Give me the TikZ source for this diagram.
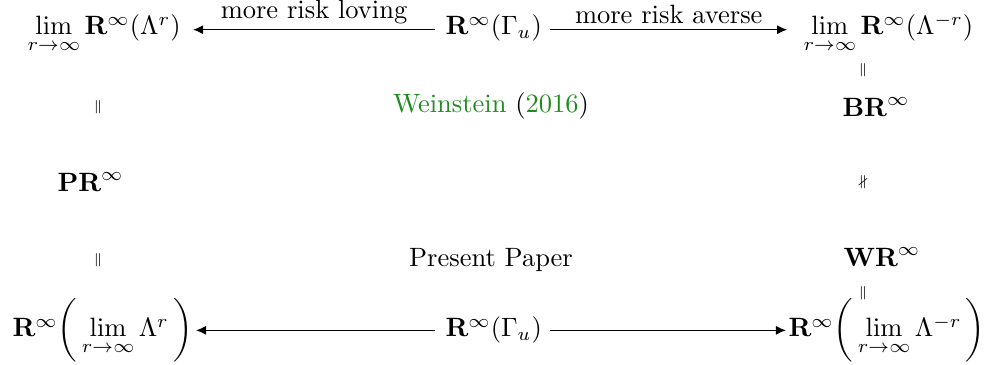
\documentclass[tikz,border=0pt]{standalone}
\usepackage{amsmath,amssymb}
\usetikzlibrary{arrows.meta}
\definecolor{citegreen}{RGB}{30,140,30}
\begin{document}
\begin{tikzpicture}[x=0.3774pt,y=-0.3774pt,
  mnode/.style={inner sep=0pt},
  eqsign/.style={inner sep=0pt},
  arr/.style={-{Latex[length=3.8pt,width=3.4pt]},line width=0.4pt},
  lbl/.style={above,inner sep=2pt}]
\useasboundingbox (0,0) rectangle (991,365);
% top row
\node[mnode,anchor=base west] (tl) at (27,35) {$\lim\limits_{r\to\infty}\mathbf{R}^\infty(\Lambda^r)$};
\node[mnode,anchor=base west] (tc) at (445,35) {$\mathbf{R}^\infty(\Gamma_u)$};
\node[mnode,anchor=base west] (tr) at (803,35) {$\lim\limits_{r\to\infty}\mathbf{R}^\infty(\Lambda^{-r})$};
% bottom row
\node[mnode,anchor=base west] (bl) at (12,337) {$\mathbf{R}^\infty\biggl(\,\lim\limits_{r\to\infty}\Lambda^r\,\biggr)$};
\node[mnode,anchor=base west] (bc) at (445,337) {$\mathbf{R}^\infty(\Gamma_u)$};
\node[mnode,anchor=base east] (br) at (986,337) {$\mathbf{R}^\infty\biggl(\,\lim\limits_{r\to\infty}\Lambda^{-r}\,\biggr)$};
% arrows
\draw[arr] ([xshift=-3.8pt,yshift=2pt]tc.base west) -- node[lbl] (l1) {more risk loving} ([xshift=4.5pt,yshift=2pt]tl.base east);
\draw[arr] ([xshift=3pt,yshift=2pt]tc.base east) -- node[lbl] (l2) {more risk averse} ([xshift=-6pt,yshift=2pt]tr.base west);
\draw[arr] ([xshift=-3.8pt,yshift=2.5pt]bc.base west) -- ([xshift=1pt,yshift=2.5pt]bl.base east);
\draw[arr] ([xshift=3pt,yshift=2.5pt]bc.base east) -- ([xshift=-0.8pt,yshift=2.5pt]br.base west);
% left column
\node[eqsign] (e1) at (98,107) {$\scriptscriptstyle\parallel$};
\node[mnode,anchor=base west] (pr) at (57,192) {$\mathbf{PR}^\infty$};
\node[eqsign] (e2) at (98,260) {$\scriptscriptstyle\parallel$};
% right column
\node[eqsign] (e3) at (863,70) {$\scriptscriptstyle\parallel$};
\node[mnode,anchor=base west] (brr) at (842,117) {$\mathbf{BR}^\infty$};
\node[eqsign] (ne) at (863,182) {$\scriptscriptstyle\nparallel$};
\node[mnode,anchor=base west] (wr) at (843,267) {$\mathbf{WR}^\infty$};
\node[eqsign] (e4) at (863,293) {$\scriptscriptstyle\parallel$};
% middle texts
\node[mnode,anchor=base] (wein) at (491,113) {\textcolor{citegreen}{Weinstein} (\textcolor{citegreen}{2016})};
\node[mnode,anchor=base] (pp) at (491,267) {Present Paper};
\end{tikzpicture}
\end{document}
